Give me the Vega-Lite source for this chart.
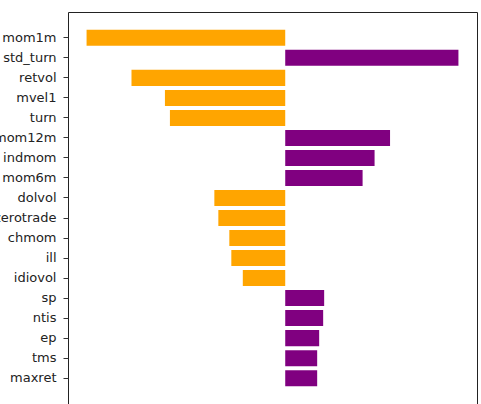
{
  "$schema": "https://vega.github.io/schema/vega-lite/v6.json",
  "autosize": {"type": "none"},
  "width": 409,
  "height": 392,
  "padding": {"left": 68, "top": 12, "right": 4, "bottom": 0},
  "background": "white",
  "config": {
    "view": {"stroke": "#222222", "strokeWidth": 1},
    "font": "DejaVu Sans"
  },
  "data": {
    "values": [
      {"feature": "mom1m", "importance": -0.199},
      {"feature": "std_turn", "importance": 0.1735},
      {"feature": "retvol", "importance": -0.154},
      {"feature": "mvel1", "importance": -0.1205},
      {"feature": "turn", "importance": -0.1155},
      {"feature": "mom12m", "importance": 0.105},
      {"feature": "indmom", "importance": 0.0895},
      {"feature": "mom6m", "importance": 0.0775},
      {"feature": "dolvol", "importance": -0.071},
      {"feature": "zerotrade", "importance": -0.067},
      {"feature": "chmom", "importance": -0.056},
      {"feature": "ill", "importance": -0.054},
      {"feature": "idiovol", "importance": -0.0425},
      {"feature": "sp", "importance": 0.039},
      {"feature": "ntis", "importance": 0.038},
      {"feature": "ep", "importance": 0.034},
      {"feature": "tms", "importance": 0.032},
      {"feature": "maxret", "importance": 0.032}
    ]
  },
  "mark": {"type": "bar"},
  "encoding": {
    "y": {
      "field": "feature",
      "type": "nominal",
      "sort": null,
      "scale": {"paddingInner": 0.2, "paddingOuter": 0.89},
      "axis": {
        "title": null,
        "domain": false,
        "grid": false,
        "ticks": true,
        "tickSize": 5,
        "tickColor": "#333333",
        "tickWidth": 1,
        "labelPadding": 7,
        "labelFontSize": 13,
        "labelColor": "#222222",
        "labelFont": "DejaVu Sans"
      }
    },
    "x": {
      "field": "importance",
      "type": "quantitative",
      "scale": {"domain": [-0.2176, 0.1921], "nice": false, "zero": false},
      "axis": null
    },
    "color": {
      "condition": {"test": "datum.importance < 0", "value": "#FFA500"},
      "value": "#800080"
    }
  }
}
